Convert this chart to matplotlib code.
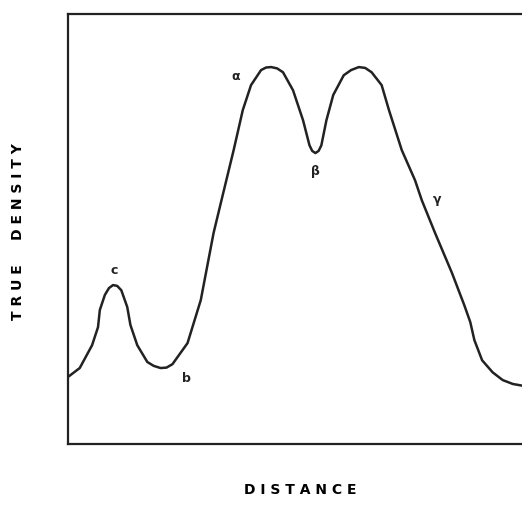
import matplotlib; matplotlib.use("Agg")
import matplotlib.pyplot as plt

# profile, distance 0-100 vs density 0-100
distance = [0, 2.6, 5.3, 6.6, 7.0, 8.1, 9.0, 9.9, 10.8, 11.7, 13.0, 13.7, 15.2, 17.4,
            18.8, 20.3, 21.6, 22.9, 26.2, 29.1, 31.9, 33.9, 36.3, 38.3, 40.1, 42.3,
            43.4, 44.5, 45.8, 47.1, 49.3, 51.5, 52.9, 53.5, 54.2, 54.9, 55.5, 56.6,
            58.1, 60.4, 62.0, 63.7, 65.1, 66.5, 68.7, 70.3, 73.1, 76.0, 77.5, 80.4,
            84.1, 86.8, 88.1, 89.0, 90.7, 93.0, 95.2, 97.4, 100]
density = [15.6, 17.7, 23.0, 27.2, 31.2, 34.7, 36.3, 37.0, 36.8, 35.8, 31.9, 27.7, 23.0, 19.1,
           18.2, 17.7, 17.8, 18.6, 23.5, 33.5, 49.1, 57.9, 68.4, 77.7, 83.5, 87.0,
           87.6, 87.7, 87.4, 86.5, 82.3, 75.3, 69.5, 68.2, 67.7, 68.2, 69.5, 75.3,
           81.2, 85.8, 87.0, 87.7, 87.5, 86.5, 83.5, 77.7, 68.4, 61.4, 56.7, 49.1,
           39.8, 32.3, 28.4, 24.2, 19.5, 16.7, 14.9, 14.0, 13.5]

marks = ["c", "b", "α", "β", "γ"]
mark_x = [10.1, 26.0, 36.8, 54.2, 80.8]
mark_y = [40.5, 15.3, 85.5, 63.5, 57.0]

fig = plt.figure(figsize=(5.22, 5.07), dpi=100)
ax = fig.add_axes([0.130, 0.124, 0.875, 0.848])
ax.plot(distance, density, color="#222222", lw=1.8, solid_joinstyle="round")
for t, x, y in zip(marks, mark_x, mark_y):
    ax.text(x, y, t, ha="center", va="center", fontsize=9, fontweight="bold", color="#222222")

ax.set_xlim(0, 100); ax.set_ylim(0, 100)
ax.set_xticks([]); ax.set_yticks([])
for s in ["left", "bottom", "top"]:
    ax.spines[s].set_linewidth(1.6); ax.spines[s].set_color("#222222")
ax.spines["right"].set_visible(False)

fig.text(0.575, 0.020, "D I S T A N C E", ha="center", va="bottom", fontsize=10, fontweight="bold")
fig.text(0.034, 0.543, "T R U E     D E N S I T Y", ha="center", va="center",
         rotation=90, fontsize=10, fontweight="bold")

plt.savefig("out.png", dpi=100)
